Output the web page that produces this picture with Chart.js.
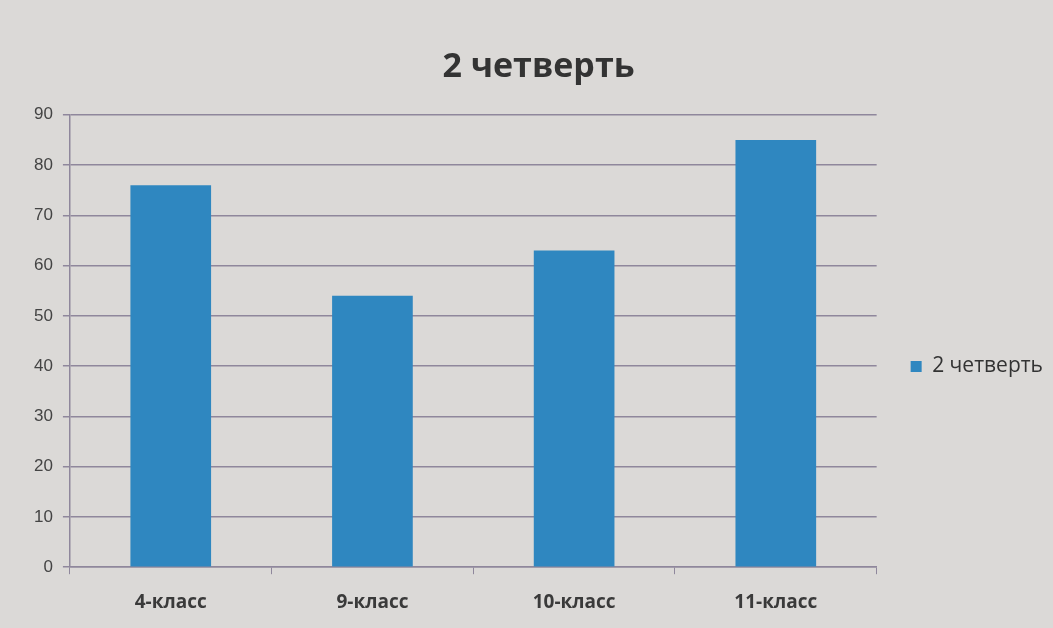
<!DOCTYPE html>
<html>
<head>
<meta charset="utf-8">
<script src="https://cdn.jsdelivr.net/npm/chart.js@4/dist/chart.umd.min.js"></script>
<style>
html,body{margin:0;padding:0;background:#dbd9d7;}
#wrap{width:1053px;height:628px;position:relative;}
</style>
</head>
<body>
<div id="wrap"><canvas id="c" width="1053" height="628"></canvas></div>
<script>
const categories = ["4-класс", "9-класс", "10-класс", "11-класс"];
const seriesName = "2 четверть";
const values = [76, 54, 63, 85];
const yTicks = [0, 10, 20, 30, 40, 50, 60, 70, 80, 90];

const gridColor = "#8f879c";
new Chart(document.getElementById("c"), {
  type: "bar",
  data: {
    labels: categories,
    datasets: [{
      label: seriesName,
      data: values,
      backgroundColor: "#2f87c0",
      borderWidth: 0,
      barPercentage: 0.4,
      categoryPercentage: 1.0
    }]
  },
  options: {
    responsive: false,
    animation: false,
    layout: { padding: { left: 24, right: 0, top: 0, bottom: -3 } },
    plugins: {
      title: {
        display: true,
        text: seriesName,
        color: "#333333",
        font: { family: "'Open Sans', 'Liberation Sans', sans-serif", size: 34, weight: "bold" },
        padding: { top: 47, bottom: 27 }
      },
      legend: {
        display: true,
        position: "right",
        title: { display: true, text: " ", padding: { top: 45, bottom: 45 }, font: { size: 10 } },
        labels: {
          color: "#333333",
          boxWidth: 11,
          boxHeight: 11,
          padding: 34,
          font: { family: "'Open Sans', sans-serif", size: 21 }
        }
      },
      tooltip: { enabled: false }
    },
    scales: {
      x: {
        grid: { display: true, drawOnChartArea: false, drawTicks: true, tickLength: 7, color: gridColor, offset: true },
        border: { display: true, color: gridColor, width: 1.5 },
        ticks: {
          color: "#3a3a3a",
          padding: 17,
          font: { family: "'Open Sans', sans-serif", size: 19, weight: "bold" }
        }
      },
      y: {
        min: 0,
        max: 90,
        afterBuildTicks: (axis) => { axis.ticks = yTicks.map(v => ({ value: v })); },
        grid: { color: gridColor, lineWidth: 1.5, drawTicks: true, tickLength: 7 },
        border: { display: true, color: gridColor, width: 1.5 },
        ticks: {
          color: "#444444",
          padding: 10,
          font: { family: "'Liberation Sans', sans-serif", size: 17 }
        }
      }
    }
  }
});
</script>
</body>
</html>
